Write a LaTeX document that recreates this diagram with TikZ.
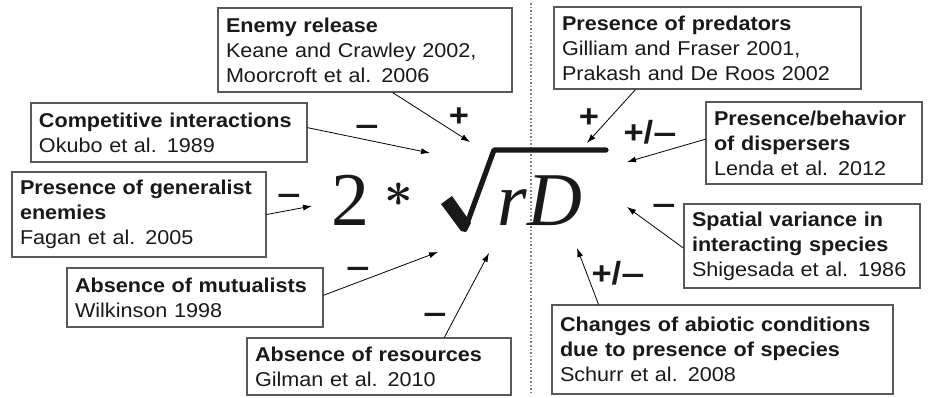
\documentclass[tikz,border=0pt]{standalone}
\usepackage{fontspec}
\setmainfont{Liberation Sans}[FakeStretch=1.08]
\newfontfamily\eqfont{Liberation Serif}
\usetikzlibrary{arrows.meta}

\newcommand\minussign{{\addfontfeature{FakeStretch=1.3}\textendash}}
\newcommand\bothsign{+/\minussign}

\tikzset{
  box/.style={draw=black!65, line width=0.6pt, inner xsep=4pt, inner ysep=2pt,
    align=left, text=black!90, font=\fontsize{10}{12.5}\selectfont},
  sign/.style={text=black!90, font=\fontsize{16}{16}\selectfont\bfseries},
  arr/.style={-{Latex[length=4.5pt,width=3pt]}, line width=0.4pt},
  big/.style={anchor=base, text=black!90, font=\eqfont\fontsize{38}{40}\selectfont}
}

\begin{document}
\begin{tikzpicture}[x=0.5pt,y=-0.5pt]
\useasboundingbox (0,0) rectangle (931,397);
\draw[densely dotted, black!50, line width=0.8pt] (531,3) -- (531,394);

\node[box, text width=139pt, minimum height=42pt] (enemy) at (365,50)
  {\textbf{Enemy release}\\Keane and Crawley 2002,\\Moorcroft et al. 2006};
\node[box, text width=145.5pt, minimum height=41pt] (pred) at (707.5,48)
  {\textbf{Presence of predators}\\Gilliam and Fraser 2001,\\Prakash and De Roos 2002};
\node[box, text width=130pt, minimum height=29.5pt] (comp) at (169,132.5)
  {\textbf{Competitive interactions}\\Okubo et al. 1989};
\node[box, text width=119pt, minimum height=42.5pt] (gen) at (139,214.5)
  {\textbf{Presence of generalist}\\\textbf{enemies}\\Fagan et al. 2005};
\node[box, text width=120pt, minimum height=29.5pt] (mut) at (195,297.5)
  {\textbf{Absence of mutualists}\\Wilkinson 1998};
\node[box, text width=124pt, minimum height=28.5pt] (res) at (379,366.5)
  {\textbf{Absence of resources}\\Gilman et al. 2010};
\node[box, text width=100pt, minimum height=41pt] (disp) at (814,143)
  {\textbf{Presence/behavior}\\\textbf{of dispersers}\\Lenda et al. 2012};
\node[box, text width=110pt, minimum height=42pt] (spat) at (802,246)
  {\textbf{Spatial variance in}\\\textbf{interacting species}\\Shigesada et al. 1986};
\node[box, text width=162.5pt, minimum height=44.5pt] (chg) at (722.5,349.5)
  {\textbf{Changes of abiotic conditions}\\\textbf{due to presence of species}\\Schurr et al. 2008};

\node[big] (two) at (350.5,225) {2};
\node[text=black!90, font=\fontsize{56}{56}\selectfont\boldmath] (ast) at (399,195) {$\ast$};
\node[big, font=\eqfont\itshape\fontsize{38}{40}\selectfont] (rd) at (540,225) {rD};
\fill[black!90] (441,204) -- (452,196) -- (471,223) -- (466,232) -- (461,231) -- cycle;
\draw[black!90, line width=2.6pt, line join=round, line cap=round]
  (465,229) -- (494,150) -- (606,150);

\coordinate (enemyT) at (470,142);
\coordinate (predT) at (587,143);
\coordinate (compT) at (430,153);
\coordinate (genT) at (312,206);
\coordinate (mutT) at (438,252);
\coordinate (resT) at (489,253);
\coordinate (dispT) at (627,162);
\coordinate (spatT) at (627,207);
\coordinate (chgT) at (577,248);

\foreach \a/\b in {enemy.-57/enemyT, pred.-150/predT, comp.2.7/compT, gen.0/genT,
  mut.1/mutT, res.24.7/resT, disp.178.4/dispT, spat.-179/spatT, chg.160.8/chgT}
  \draw[arr] (\a) -- (\b);

\foreach \n/\x/\y/\s in {sEnemy/459/117/+, sComp/367/130/\minussign, sGen/289/199/\minussign,
  sMut/358/272/\minussign, sRes/435/318/\minussign, sPred/589/118/+,
  sDisp/650/132/\bothsign, sSpat/664/209/\minussign, sChg/618/273/\bothsign}
  \node[sign] (\n) at (\x,\y) {\s};
\end{tikzpicture}
\end{document}
